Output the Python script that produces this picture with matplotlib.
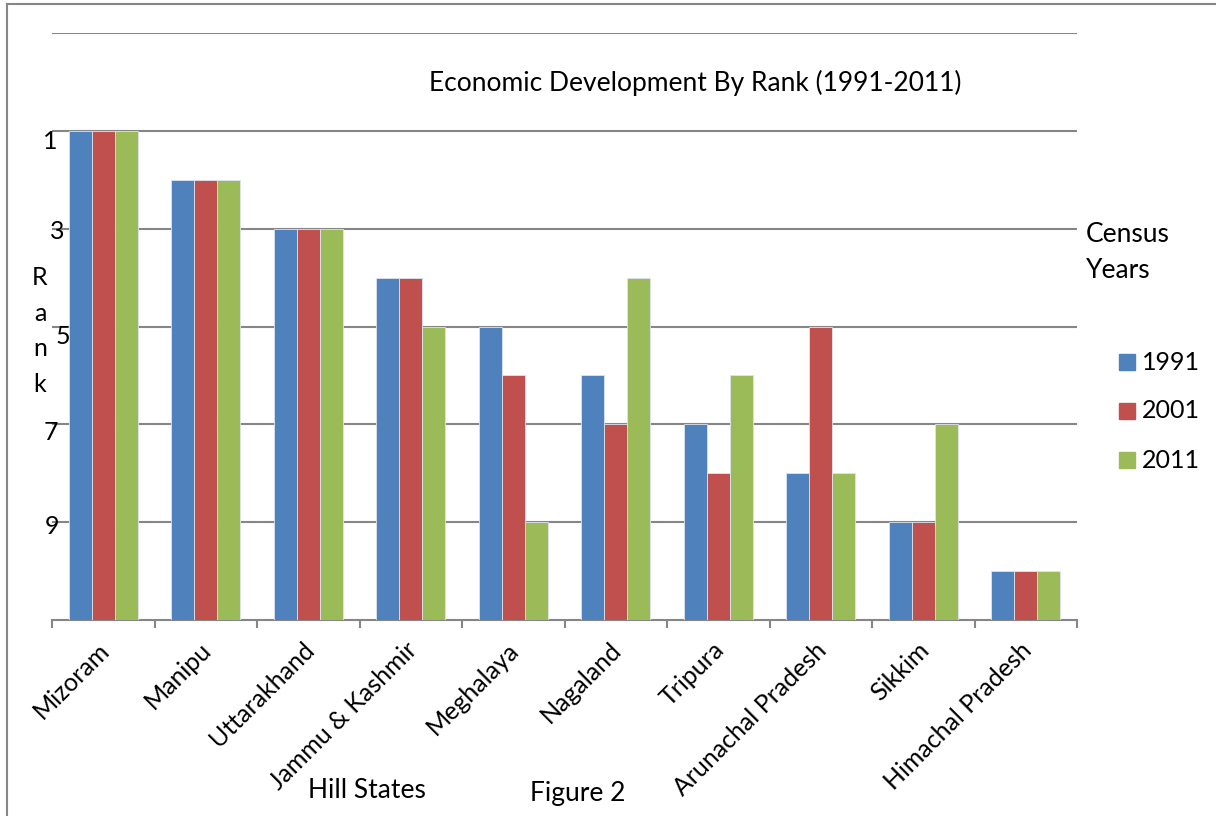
import matplotlib.pyplot as plt
import matplotlib.transforms as mtransforms
from matplotlib.lines import Line2D
import numpy as np

states = ['Mizoram', 'Manipu', 'Uttarakhand', 'Jammu & Kashmir', 'Meghalaya',
          'Nagaland', 'Tripura', 'Arunachal Pradesh', 'Sikkim', 'Himachal Pradesh']
years = ['1991', '2001', '2011']
rank_1991 = [1, 2, 3, 4, 5, 6, 7, 8, 9, 10]
rank_2001 = [1, 2, 3, 4, 6, 7, 8, 5, 9, 10]
rank_2011 = [1, 2, 3, 5, 9, 4, 6, 8, 7, 10]
ytick_vals = [1, 3, 5, 7, 9]

colors = ['#4F81BD', '#C0504D', '#9BBB59']
plt.rcParams['font.family'] = ['Lato', 'DejaVu Sans']

W, H = 1216, 816
fig = plt.figure(figsize=(W / 100, H / 100), dpi=100)
ax = fig.add_axes([52 / W, 1 - 620 / H, (1077 - 52) / W, (620 - 33) / H])

x = np.arange(len(states))
bw = 0.225
for i, (vals, c) in enumerate(zip([rank_1991, rank_2001, rank_2011], colors)):
    vals = np.array(vals)
    ax.bar(x + (i - 1) * bw, vals - 11, bottom=11, width=bw, color=c,
           edgecolor='#dde4ee', linewidth=0.6, zorder=3)

ax.set_xlim(-0.5, len(states) - 0.5)
ax.set_ylim(11, -1)

# gridlines
ax.set_yticks([-1] + ytick_vals)
ax.yaxis.grid(True, color='#868686', linewidth=1.5, zorder=0)
ax.tick_params(axis='y', length=0, labelleft=False)
ax.set_axisbelow(True)
for s in ['left', 'right', 'top']:
    ax.spines[s].set_visible(False)
ax.spines['bottom'].set_color('#868686')
ax.spines['bottom'].set_linewidth(1.5)

# x ticks at category boundaries
ax.set_xticks(np.arange(-0.5, len(states), 1.0), minor=True)
ax.tick_params(axis='x', which='minor', length=6, width=1.5, color='#868686', direction='out')
ax.set_xticks(x)
ax.set_xticklabels(states, rotation=45, ha='right', va='top', rotation_mode='anchor', fontsize=18)
ax.tick_params(axis='x', which='major', length=0, pad=13)
shift = mtransforms.ScaledTranslation(-6 / 100, 0, fig.dpi_scale_trans)
for lbl in ax.get_xticklabels():
    lbl.set_transform(lbl.get_transform() + shift)

# y tick labels (placed by hand like the original)
offsets = {1: (-2, 11), 3: (5, 3), 5: (11, 10), 7: (-1, 8), 9: (0, 4)}
for v in ytick_vals:
    dx, dy = offsets[v]
    ax.annotate(str(v), xy=(0, v), xycoords=('axes fraction', 'data'),
                xytext=(dx, -dy), textcoords='offset pixels',
                ha='center', va='center', fontsize=18)

fig.text(695 / W, 1 - 83 / H, 'Economic Development By Rank (1991-2011)',
         ha='center', va='center', fontsize=19)
fig.text(40 / W, 1 - 331 / H, 'R\na\nn\nk', ha='center', va='center', fontsize=18, linespacing=1.65)
fig.text(308 / W, 1 - 790 / H, 'Hill States', ha='left', va='center', fontsize=19)
fig.text(530 / W, 1 - 793 / H, 'Figure 2', ha='left', va='center', fontsize=19)
fig.text(1086 / W, 1 - 253 / H, 'Census\nYears', ha='left', va='center', fontsize=19, linespacing=1.55)

# legend
for i, (yr, c) in enumerate(zip(years, colors)):
    yc = 362 + 49 * i
    fig.patches.append(plt.Rectangle((1119 / W, 1 - (yc + 8) / H), 16 / W, 16 / H,
                                     transform=fig.transFigure, color=c))
    fig.text(1142 / W, 1 - yc / H, yr, ha='left', va='center', fontsize=18)

# outer chart border
fig.add_artist(Line2D([7 / W, 7 / W], [0, 1 - 4 / H], transform=fig.transFigure, color='#868686', lw=1.5))
fig.add_artist(Line2D([7 / W, 1], [1 - 4 / H, 1 - 4 / H], transform=fig.transFigure, color='#868686', lw=1.5))

fig.savefig('out.png', dpi=100)
